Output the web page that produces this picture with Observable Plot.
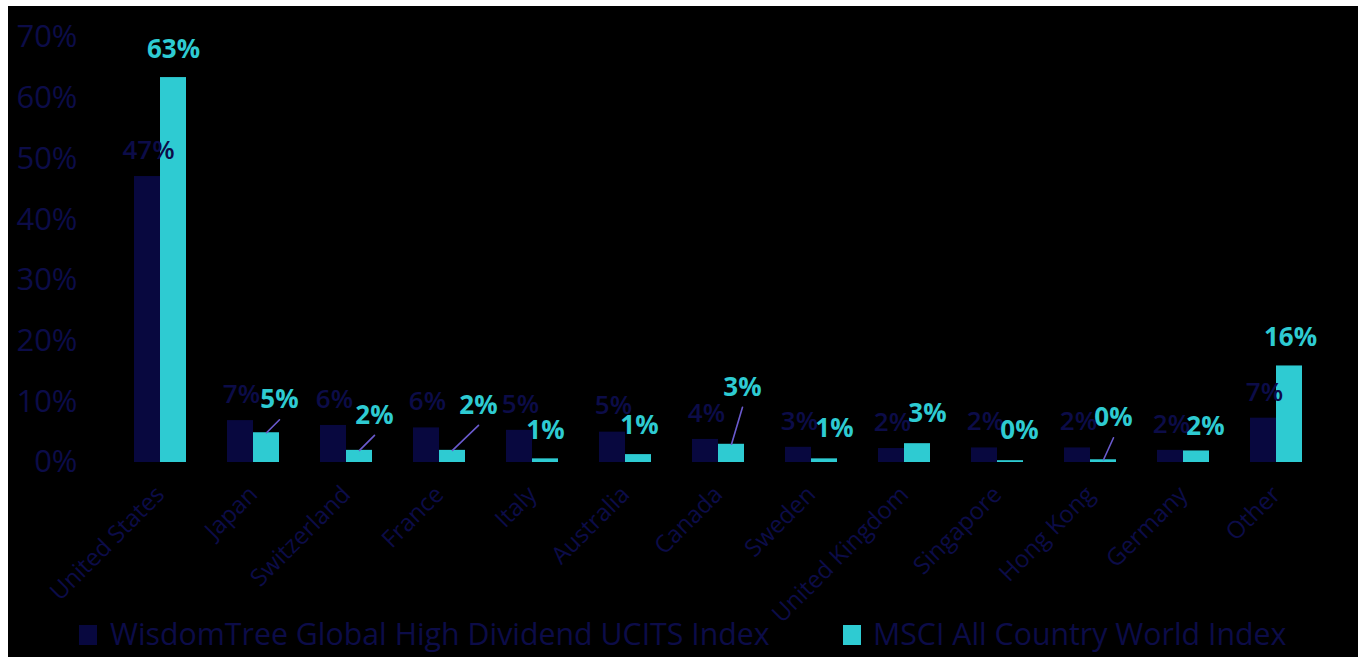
<!DOCTYPE html>
<html>
<head>
<meta charset="utf-8">
<script src="https://cdn.jsdelivr.net/npm/d3@7"></script>
<script src="https://cdn.jsdelivr.net/npm/@observablehq/plot@0.6"></script>
<style>
  html, body { margin: 0; padding: 0; background: #ffffff; }
  #frame { position: absolute; left: 8px; top: 6px; width: 1350px; height: 651px; background: #000; overflow: hidden; font-family: "Open Sans", sans-serif; }
  #chart { position: absolute; left: 0; top: 0; }
  .lg-sw { position: absolute; width: 18px; height: 20px; }
  .lg-tx { position: absolute; font-size: 30.3px; line-height: 36px; color: #0c0c48; white-space: nowrap; }
</style>
</head>
<body>
<div id="frame">
  <div id="chart"></div>
  <div id="legend"></div>
</div>
<script>
const categories = ["United States","Japan","Switzerland","France","Italy","Australia","Canada","Sweden","United Kingdom","Singapore","Hong Kong","Germany","Other"];
const wisdomTree = [47.1, 6.9, 6.1, 5.7, 5.3, 5.0, 3.8, 2.5, 2.3, 2.4, 2.4, 2.0, 7.3];
const msciACWI   = [63.4, 4.9, 2.0, 2.0, 0.6, 1.3, 3.0, 0.6, 3.1, 0.3, 0.45, 1.9, 15.9];
const yTicks = [0, 10, 20, 30, 40, 50, 60, 70];
const seriesNames = ["WisdomTree Global High Dividend UCITS Index", "MSCI All Country World Index"];

// label placement (pixel offsets of the MSCI value labels) and callout leaders
const msciLabelDx = [0, 13, 15, 26, 0, 1, 11, 10, 10, 9, 10, 9, 1];
const msciLabelDy = [-28, -33, -35, -45, -28, -29, -57, -30, -30, -30, -42, -24, -28];
const msciLeader = ["Japan", "Switzerland", "France", "Canada", "Hong Kong"];

const navy = "#08083f";
const navyText = "#0c0c48";
const cyan = "#2ecbd2";
const leaderColor = "#6a5acd";

const rows = categories.map((c, i) => ({
  category: c, wt: wisdomTree[i], msci: msciACWI[i],
  ldx: msciLabelDx[i], ldy: msciLabelDy[i]
}));
const leaders = rows.filter(d => msciLeader.includes(d.category));

const half = 26;
const pct = v => Math.round(v) + "%";

const msciLabelMarks = rows.map(d => Plot.text([d], {
  x: "category", y: "msci", text: r => pct(r.msci),
  dx: half / 2 + d.ldx, dy: d.ldy,
  fill: cyan, fontSize: 26, fontWeight: 700
}));

const chart = Plot.plot({
  width: 1350,
  height: 632,
  marginLeft: 104,
  marginRight: 33,
  marginTop: 31,
  marginBottom: 176,
  style: { background: "transparent", color: navyText, fontFamily: "'Open Sans', sans-serif" },
  x: { domain: categories, paddingInner: 0.44, paddingOuter: 0.22, label: null },
  y: { domain: [0, 70], label: null },
  length: { type: "identity" },
  marks: [
    Plot.axisY({ ticks: yTicks, tickFormat: d => d + "%", tickSize: 0, tickPadding: 35, fontSize: 31, fill: navyText, label: null }),
    Plot.axisX({ tickRotate: -45, tickSize: 0, tickPadding: 28, fontSize: 24, fill: navyText, label: null }),
    Plot.barY(rows, { x: "category", y: "wt", fill: navy, insetRight: half, insetLeft: 0 }),
    Plot.barY(rows, { x: "category", y: "msci", fill: cyan, insetLeft: half, insetRight: 0 }),
    Plot.vector(leaders, {
      x: "category", y: "msci", dx: half / 2, anchor: "start", r: 0,
      length: d => Math.hypot(d.ldx, d.ldy + 20),
      rotate: d => Math.atan2(d.ldx, -(d.ldy + 20)) * 180 / Math.PI,
      stroke: leaderColor, strokeWidth: 1.6
    }),
    Plot.text(rows, {
      x: "category", y: "wt", text: d => pct(d.wt),
      dx: -half / 2 + 1, dy: -26,
      fill: navyText, fontSize: 26, fontWeight: 600
    }),
    ...msciLabelMarks
  ]
});
document.getElementById("chart").appendChild(chart);

const legend = document.getElementById("legend");
const items = [
  { name: seriesNames[0], color: navy, sw: 71, tx: 102 },
  { name: seriesNames[1], color: cyan, sw: 835, tx: 865 }
];
items.forEach(it => {
  const s = document.createElement("div");
  s.className = "lg-sw";
  s.style.left = it.sw + "px"; s.style.top = "619px"; s.style.background = it.color;
  legend.appendChild(s);
  const t = document.createElement("div");
  t.className = "lg-tx";
  t.style.left = it.tx + "px"; t.style.top = "610px";
  t.textContent = it.name;
  legend.appendChild(t);
});
</script>
</body>
</html>
